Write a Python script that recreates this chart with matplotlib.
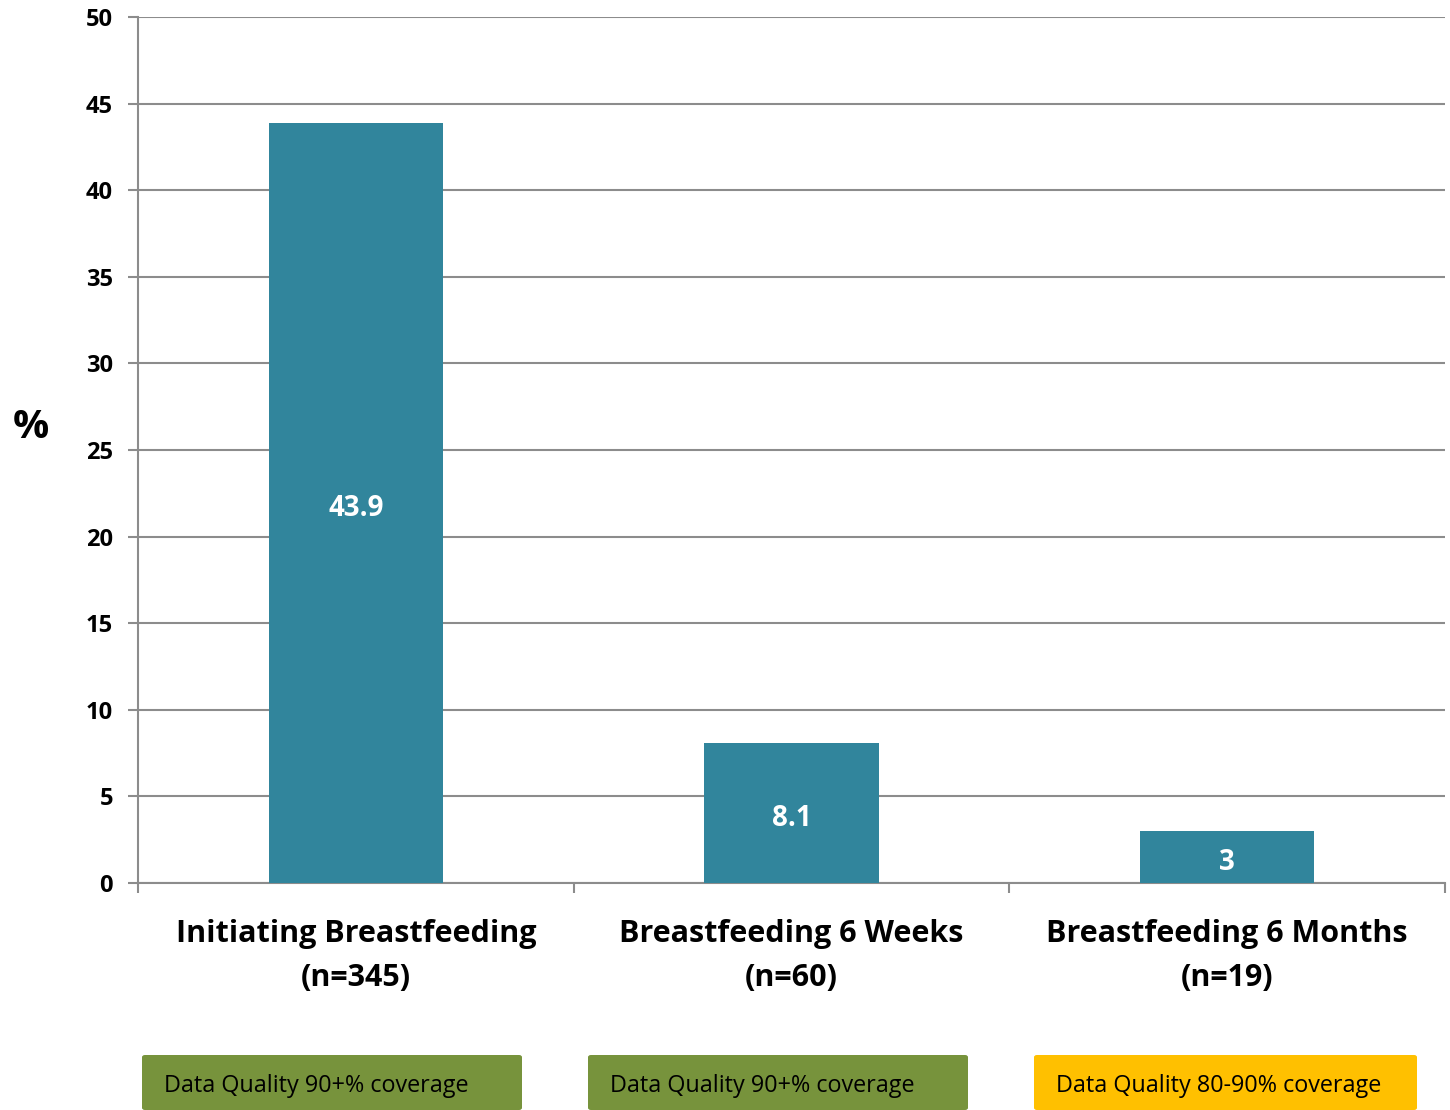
import matplotlib.pyplot as plt
from matplotlib.patches import FancyBboxPatch

# -----------------------------
# Data
categories = ['Initiating Breastfeeding\n(n=345)',
              'Breastfeeding 6 Weeks\n(n=60)',
              'Breastfeeding 6 Months\n(n=19)']
values = [43.9, 8.1, 3]
value_labels = ['43.9', '8.1', '3']
quality_text = ['Data Quality 90+% coverage',
                'Data Quality 90+% coverage',
                'Data Quality 80-90% coverage']
quality_colors = ['#77933C', '#77933C', '#FFC000']
yticks = [0, 5, 10, 15, 20, 25, 30, 35, 40, 45, 50]

plt.rcParams['font.family'] = ['Open Sans', 'DejaVu Sans']

# -----------------------------
fig = plt.figure(figsize=(14.5, 11.1), dpi=100)
ax = fig.add_axes([138/1450, 1-883/1110, (1445-138)/1450, (883-17)/1110])

x = list(range(len(categories)))
bars = ax.bar(x, values, width=0.4, color='#31859C', zorder=3)

for b, lab in zip(bars, value_labels):
    ax.annotate(lab, (b.get_x() + b.get_width()/2, b.get_height()/2),
                xytext=(0, -4), textcoords='offset points',
                ha='center', va='center', color='white', fontsize=20,
                fontweight='bold', zorder=4)

ax.set_xlim(-0.5, 2.5)
ax.set_ylim(0, 50)
ax.set_yticks(yticks)
ax.set_yticklabels([str(t) for t in yticks], fontsize=17, fontweight='bold')
ax.yaxis.grid(True, color='#8c8c8c', linewidth=1.5, zorder=0)
ax.set_axisbelow(True)

# category labels, ticks on category borders
ax.set_xticks([-0.5, 0.5, 1.5, 2.5])
ax.set_xticklabels([])
for xi, c in zip(x, categories):
    ax.text(xi, -2.05, c, ha='center', va='top', fontsize=22,
            fontweight='bold', linespacing=1.62)

ax.tick_params(axis='both', length=7, width=1.5, color='#8c8c8c')
ax.tick_params(axis='y', pad=11)
for s in ['top', 'right']:
    ax.spines[s].set_visible(False)
for s in ['left', 'bottom']:
    ax.spines[s].set_color('#8c8c8c')
    ax.spines[s].set_linewidth(1.5)

fig.text(31/1450, 1-427/1110, '%', fontsize=29, fontweight='bold',
         ha='center', va='center')

# data quality boxes below the chart
box_left = [142, 588, 1034]
box_width = [380, 380, 383]
for bl, bw, t, col in zip(box_left, box_width, quality_text, quality_colors):
    p = FancyBboxPatch((bl/1450, 1-1110/1110), bw/1450, 55/1110,
                       boxstyle='round,pad=0,rounding_size=0.002',
                       transform=fig.transFigure, facecolor=col,
                       edgecolor='none')
    fig.patches.append(p)
    fig.text((bl + 22)/1450, 1-1086/1110, t, fontsize=16.8,
             ha='left', va='center', color='black')

fig.savefig('out.png', dpi=100)
